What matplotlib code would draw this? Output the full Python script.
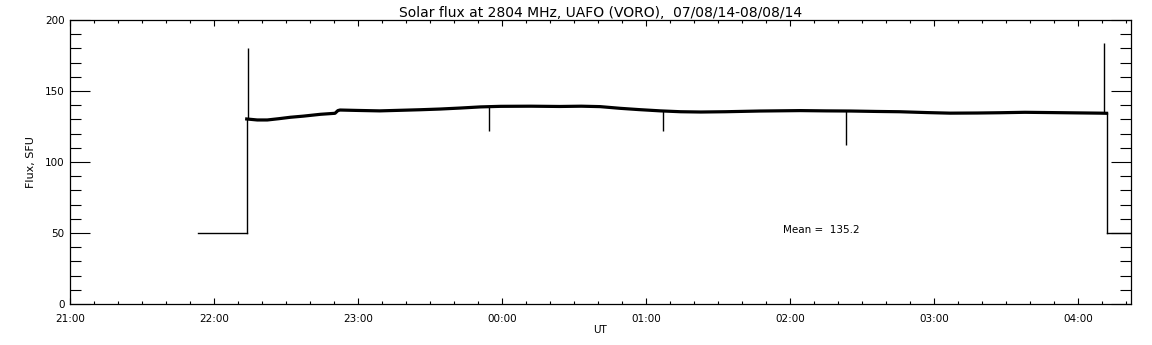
import numpy as np
import matplotlib
matplotlib.use('Agg')
import matplotlib.pyplot as plt
from matplotlib.ticker import MultipleLocator, FuncFormatter

# time in hours (UT, counted from 21:00 of the first day, >24 means next day)
gap_t_start = [21.889, 22.227]
gap_flux_start = [50, 50]
gap_t_end = [28.197, 28.368]
gap_flux_end = [50, 50]

band_t = [22.227, 22.30, 22.37, 22.45, 22.53, 22.62, 22.74, 22.84, 22.86, 22.875,
          23.00, 23.15, 23.29, 23.43, 23.57, 23.71, 23.85, 23.99, 24.20, 24.40,
          24.55, 24.68, 24.82, 24.95, 25.10, 25.24, 25.38, 25.55, 25.79, 26.07,
          26.25, 26.42, 26.60, 26.76, 26.95, 27.11, 27.30, 27.46, 27.63, 27.81,
          27.98, 28.15, 28.197]
band_flux = [130.3, 129.6, 129.6, 130.5, 131.5, 132.3, 133.6, 134.3, 136.2, 136.6,
             136.3, 136.0, 136.4, 136.8, 137.3, 138.0, 138.8, 139.2, 139.3, 139.1,
             139.3, 139.0, 137.8, 136.9, 136.0, 135.4, 135.2, 135.4, 135.9, 136.2,
             136.0, 135.9, 135.6, 135.4, 134.8, 134.4, 134.5, 134.7, 135.0, 134.8,
             134.6, 134.4, 134.3]

spike_t = [22.238, 23.912, 25.120, 26.391, 28.176]
spike_base = [130.0, 139.0, 136.0, 136.0, 134.3]
spike_flux = [180.0, 122.0, 122.0, 112.0, 183.6]

mean_flux = 135.2

fig = plt.figure(figsize=(11.52, 3.45), dpi=100)
ax = fig.add_axes([70 / 1152, 41 / 345, 1061 / 1152, 284 / 345])

lw_thin = 1.0
ax.plot(gap_t_start, gap_flux_start, color='black', lw=lw_thin)
ax.plot(gap_t_end, gap_flux_end, color='black', lw=lw_thin)
# vertical jumps into and out of the band
ax.plot([band_t[0], band_t[0]], [gap_flux_start[-1], band_flux[0]], color='black', lw=lw_thin)
ax.plot([band_t[-1], band_t[-1]], [band_flux[-1], gap_flux_end[0]], color='black', lw=lw_thin)
ax.plot(band_t, band_flux, color='black', lw=2.3)
ax.vlines(spike_t, spike_base, spike_flux, color='black', lw=lw_thin)

ax.text(25.95, 52, 'Mean =  %.1f' % mean_flux, fontsize=7.5, ha='left', va='center')

ax.set_xlim(21, 28 + 22 / 60)
ax.set_ylim(0, 200)

ax.xaxis.set_major_locator(MultipleLocator(1))
ax.xaxis.set_minor_locator(MultipleLocator(1 / 6))
ax.xaxis.set_major_formatter(FuncFormatter(lambda v, p: '%02d:00' % (int(round(v)) % 24)))
ax.yaxis.set_major_locator(MultipleLocator(50))
ax.yaxis.set_minor_locator(MultipleLocator(10))

ax.tick_params(axis='y', which='major', direction='in', length=14.5, width=0.8,
               left=True, right=True, labelsize=7.5, pad=4)
ax.tick_params(axis='y', which='minor', direction='in', length=8, width=0.8,
               left=True, right=True)
ax.tick_params(axis='x', which='major', direction='in', length=4, width=0.8,
               bottom=True, top=True, labelsize=7.5, pad=7)
ax.tick_params(axis='x', which='minor', direction='in', length=2.3, width=0.8,
               bottom=True, top=True)
for s in ax.spines.values():
    s.set_linewidth(0.9)

ax.set_title('Solar flux at 2804 MHz, UAFO (VORO),  07/08/14-08/08/14', fontsize=10, pad=2)
ax.set_xlabel('UT', fontsize=7.5, labelpad=1)
ax.set_ylabel('Flux, SFU', fontsize=8, labelpad=6)

fig.savefig('out.png', dpi=100)
